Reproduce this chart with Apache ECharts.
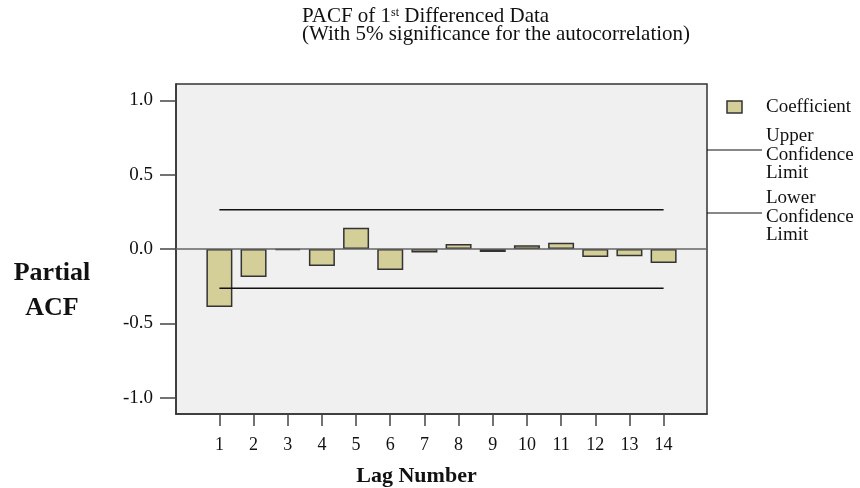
<!DOCTYPE html>
<html>
<head>
<meta charset="utf-8">
<script src="https://cdn.jsdelivr.net/npm/echarts@6/dist/echarts.min.js"></script>
<style>html,body{margin:0;padding:0;background:#fff}#c{width:860px;height:488px}</style>
</head>
<body>
<div id="c"></div>
<script>
var lags = [1,2,3,4,5,6,7,8,9,10,11,12,13,14];
var pacf = [-0.390,-0.188,-0.008,-0.114,0.143,-0.141,-0.023,0.034,-0.020,0.025,0.042,-0.054,-0.049,-0.094];
var upperLimit = 0.264;
var lowerLimit = -0.264;
var yTicks = [-1.0,-0.5,0.0,0.5,1.0];

var F = "'Liberation Serif','Times New Roman',serif";
var chart = echarts.init(document.getElementById('c'));
var barData = lags.map(function(l,i){return [l,pacf[i]];});
var upData = [[lags[0],upperLimit],[lags[lags.length-1],upperLimit]];
var loData = [[lags[0],lowerLimit],[lags[lags.length-1],lowerLimit]];

chart.setOption({
  animation:false,
  backgroundColor:'#fff',
  title:{
    left:302, top:7, padding:0,
    text:'{a|PACF of 1}{s|st}{a| Differenced Data}\n{a|(With 5% significance for the autocorrelation)}',
    textStyle:{fontWeight:'normal',rich:{
      a:{fontFamily:F,fontSize:21,fontWeight:'normal',color:'#111',lineHeight:18.5},
      s:{fontFamily:F,fontSize:12,fontWeight:'normal',color:'#111',verticalAlign:'top',lineHeight:18.5,padding:[0,0,8,0]}
    }}
  },
  grid:{left:176,top:84,right:153,bottom:74,outerBoundsMode:'none',containLabel:false,
    show:true,backgroundColor:'#f0f0f0',borderColor:'#333',borderWidth:1.5},
  xAxis:{
    type:'value',min:-0.27,max:15.27,
    name:'Lag Number',nameLocation:'middle',nameGap:51,
    nameTextStyle:{fontFamily:F,fontSize:22,fontWeight:'bold',color:'#111',padding:[0,50,0,0]},
    axisLine:{show:true,onZero:false,lineStyle:{color:'#333',width:1.5}},
    axisTick:{show:true,length:12,customValues:lags,lineStyle:{color:'#444',width:1.5}},
    axisLabel:{customValues:lags,margin:22,fontFamily:F,fontSize:18,color:'#111'},
    splitLine:{show:false}
  },
  yAxis:{
    type:'value',min:-1.11,max:1.11,
    axisLine:{show:true,onZero:false,lineStyle:{color:'#333',width:1.5}},
    axisTick:{show:true,length:16,customValues:yTicks,lineStyle:{color:'#444',width:1.5}},
    axisLabel:{customValues:yTicks,margin:23,fontFamily:F,fontSize:19,color:'#111',
      formatter:function(v){return v.toFixed(1);}},
    splitLine:{show:false}
  },
  series:[
    {type:'bar',data:barData,barWidth:26,
      itemStyle:{color:'#d4cf98',borderColor:'#333',borderWidth:1.5},
      markLine:{silent:true,symbol:'none',label:{show:false},
        lineStyle:{color:'#666',width:1.5,type:'solid'},data:[{yAxis:0}]},
      z:3},
    {type:'line',data:upData,symbol:'none',lineStyle:{color:'#111',width:1.5},z:4},
    {type:'line',data:loData,symbol:'none',lineStyle:{color:'#111',width:1.5},z:4}
  ],
  graphic:[
    {type:'text',style:{x:52,y:291,text:'Partial\nACF',textAlign:'center',textVerticalAlign:'middle',
      font:'bold 26px '+F,fill:'#111',lineHeight:35}},
    {type:'rect',shape:{x:727,y:101,width:15,height:12},style:{fill:'#d4cf98',stroke:'#333',lineWidth:1.5}},
    {type:'text',style:{x:766,y:107,text:'Coefficient',textVerticalAlign:'middle',font:'19px '+F,fill:'#111'}},
    {type:'line',shape:{x1:707,y1:150,x2:762,y2:150},style:{stroke:'#111',lineWidth:1.2}},
    {type:'text',style:{x:766,y:155,text:'Upper\nConfidence\nLimit',textVerticalAlign:'middle',font:'19px '+F,fill:'#111',lineHeight:18.5}},
    {type:'line',shape:{x1:707,y1:213,x2:762,y2:213},style:{stroke:'#111',lineWidth:1.2}},
    {type:'text',style:{x:766,y:217,text:'Lower\nConfidence\nLimit',textVerticalAlign:'middle',font:'19px '+F,fill:'#111',lineHeight:18.5}}
  ]
});
</script>
</body>
</html>
